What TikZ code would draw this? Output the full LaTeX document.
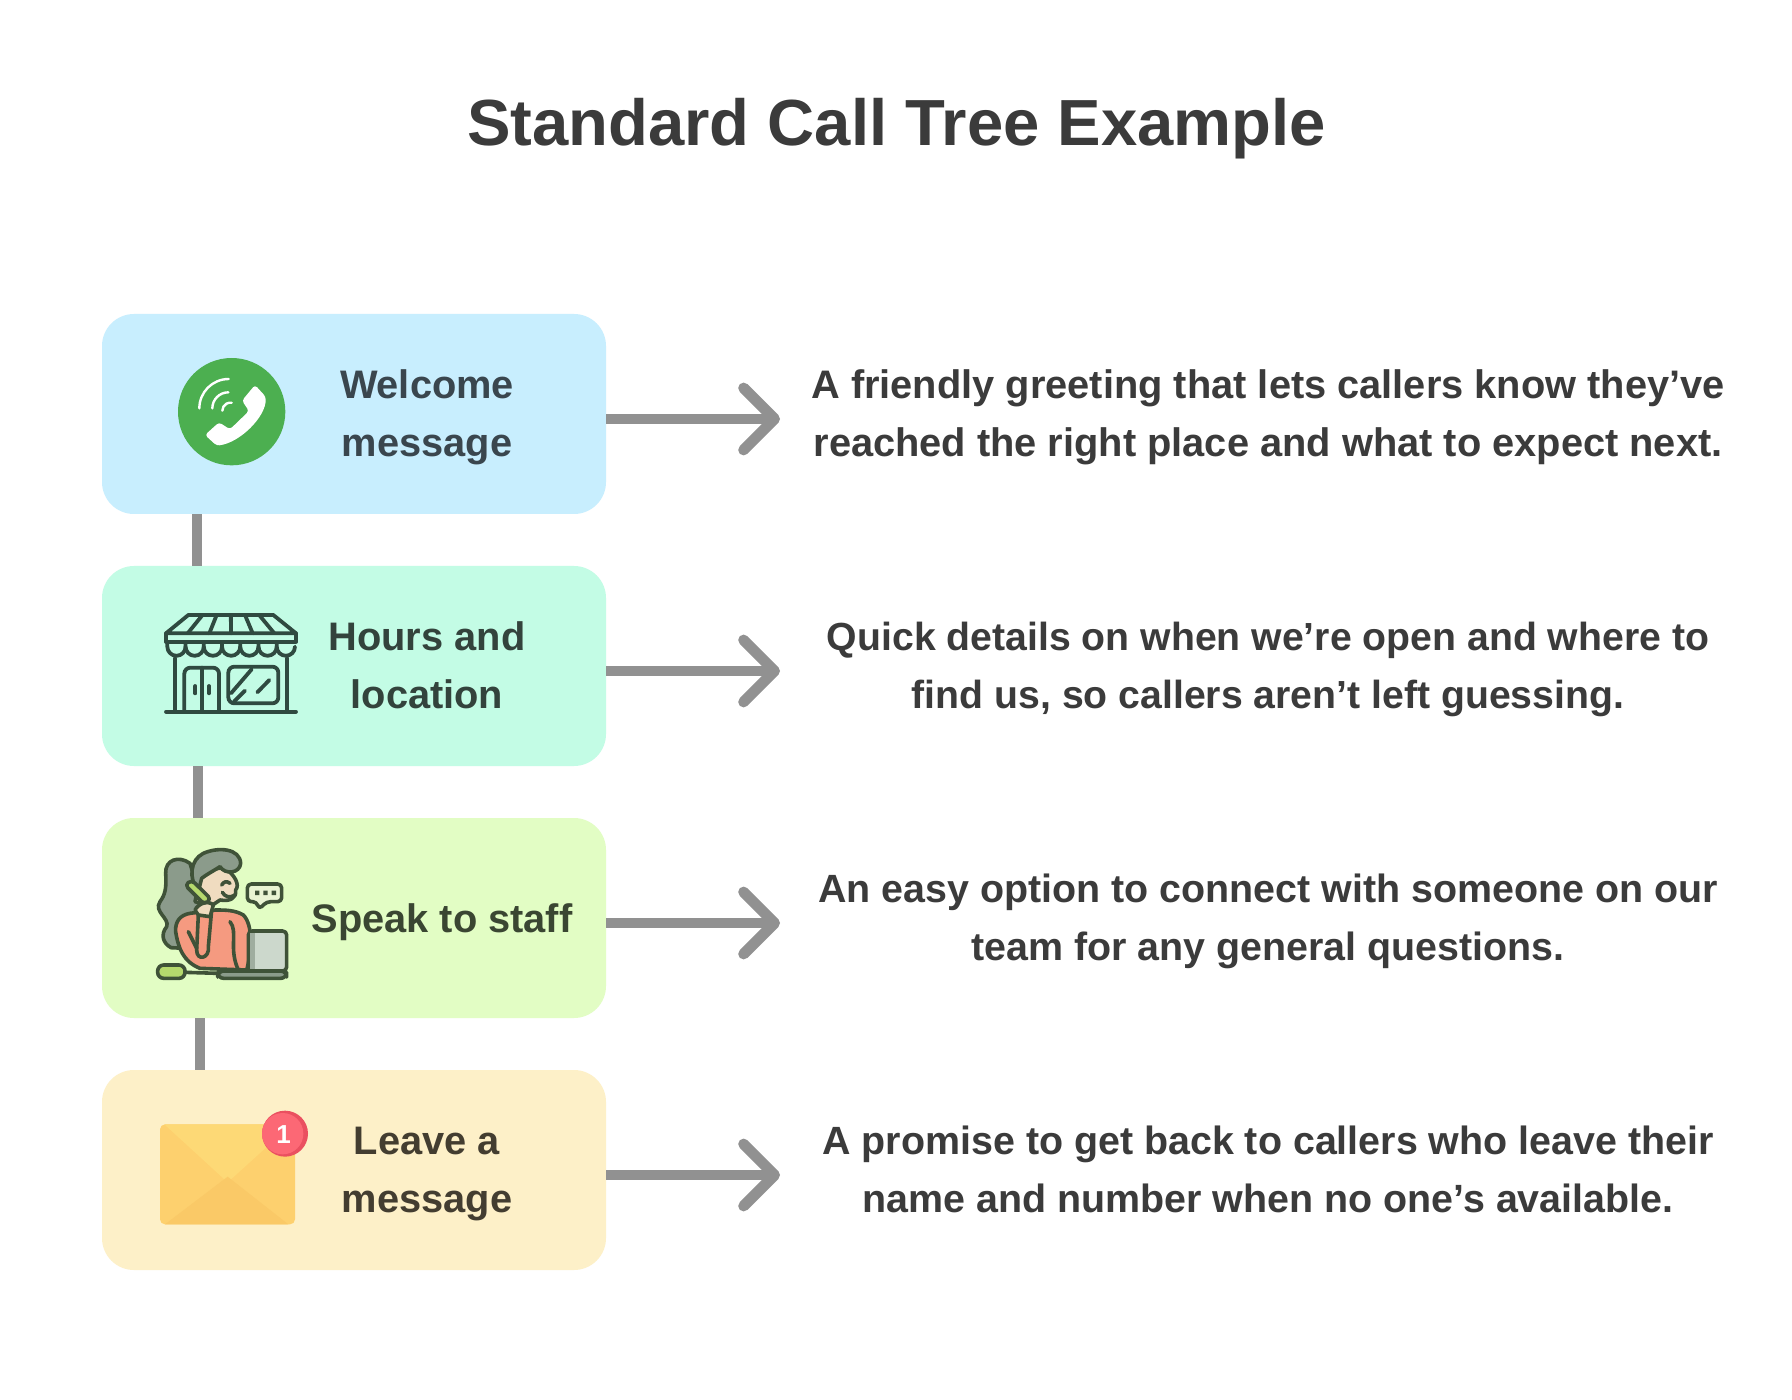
\documentclass[tikz,border=0pt]{standalone}
\usepackage{fontspec}
\setmainfont{Liberation Sans}
\usetikzlibrary{arrows.meta}
\definecolor{boxblue}{HTML}{C8EEFE}
\definecolor{boxmint}{HTML}{C3FCE5}
\definecolor{boxlime}{HTML}{E2FDC4}
\definecolor{boxcream}{HTML}{FDF0C8}
\definecolor{linkgray}{HTML}{919191}
\definecolor{inktitle}{HTML}{3B3B3B}
\definecolor{storeink}{HTML}{2F4A40}
\definecolor{wink}{HTML}{3F5238}
\definecolor{hair}{HTML}{8B9B8B}
\definecolor{skin}{HTML}{F0DCC0}
\definecolor{coral}{HTML}{F59A80}
\definecolor{phonegreen}{HTML}{B5D96D}
\definecolor{laptop}{HTML}{CCD8CC}
\definecolor{callgreen}{HTML}{4CAF50}
\definecolor{envbody}{HTML}{FDD06E}
\definecolor{envflap}{HTML}{FDD976}
\definecolor{envlow}{HTML}{FAC967}
\definecolor{badgedark}{HTML}{EA5060}
\definecolor{badgelight}{HTML}{FC6875}
\definecolor{inkblue}{HTML}{3A464E}
\definecolor{inkmint}{HTML}{33433C}
\definecolor{inklime}{HTML}{3A4632}
\definecolor{inkcream}{HTML}{433D30}
\tikzset{
  stepbox/.style={rounded corners=16pt,minimum width=252pt,minimum height=100pt,inner sep=0pt},
  steplabel/.style={font=\fontsize{19.9}{29}\selectfont\bfseries,align=center,inner sep=0pt},
  desc/.style={font=\fontsize{#1}{29}\selectfont\bfseries,align=center,inner sep=0pt,text=inktitle},
  linkline/.style={draw=linkgray,line width=5pt},
  arrowline/.style={draw=linkgray,line width=5.4pt,-{Straight Barb[length=15.5pt,width=31pt,round]}},
  icon/.style={x=0.16667pt,y=-0.16667pt},
  storeline/.style={draw=storeink,line width=1.9pt,line cap=round,line join=round},
  wline/.style={draw=wink,line width=1.8pt,line cap=round,line join=round}
}
\begin{document}
\begin{tikzpicture}[x=0.5pt,y=-0.5pt]
\useasboundingbox[fill=white] (0,0) rectangle (1792,1400);
\node[font=\fontsize{32.6}{40}\selectfont\bfseries,text=inktitle,inner sep=0pt] (title) at (896.5,129) {Standard Call Tree Example};
\node[stepbox,fill=boxblue] (b1) at (354,414) {};
\node[stepbox,fill=boxmint] (b2) at (354,666) {};
\node[stepbox,fill=boxlime] (b3) at (354,918) {};
\node[stepbox,fill=boxcream] (b4) at (354,1170) {};
\draw[linkline] ([xshift=-78.5pt]b1.south) -- ([xshift=-78.5pt]b2.north);
\draw[linkline] ([xshift=-78pt]b2.south) -- ([xshift=-78pt]b3.north);
\draw[linkline] ([xshift=-77pt]b3.south) -- ([xshift=-77pt]b4.north);
\node[steplabel,text=inkblue] (l1) at (427,415.5) {\strut Welcome\\\strut message};
\node[steplabel,text=inkmint] (l2) at (427,667.5) {\strut Hours and\\\strut location};
\node[steplabel,text=inklime] (l3) at (442,921) {\strut Speak to staff};
\node[steplabel,text=inkcream] (l4) at (427,1171.5) {\strut Leave a\\\strut message};
\node[desc=19.9] (d1) at (1268,415.5) {\strut A friendly greeting that lets callers know they’ve\\\strut reached the right place and what to expect next.};
\node[desc=19.6] (d2) at (1268,667.5) {\strut Quick details on when we’re open and where to\\\strut find us, so callers aren’t left guessing.};
\node[desc=19.7] (d3) at (1268,919.5) {\strut An easy option to connect with someone on our\\\strut team for any general questions.};
\node[desc=19.7] (d4) at (1268,1171.5) {\strut A promise to get back to callers who leave their\\\strut name and number when no one’s available.};
\coordinate (t1) at (780,419);
\coordinate (t2) at (780,671);
\coordinate (t3) at (780,923);
\coordinate (t4) at (780,1175);
\draw[arrowline] (b1.east |- t1) -- (t1);
\draw[arrowline] (b2.east |- t2) -- (t2);
\draw[arrowline] (b3.east |- t3) -- (t3);
\draw[arrowline] (b4.east |- t4) -- (t4);
% phone icon
\begin{scope}[shift={(150,330)},icon]
\fill[callgreen] (245,245) circle (161);
\draw[white,line width=1.2pt,line cap=round] (148,235) arc (180:270:88);
\draw[white,line width=1.2pt,line cap=round] (187,235) arc (180:270:48);
\draw[white,line width=1.2pt,line cap=round] (217,242) arc (180:280:24);
\fill[white,rounded corners=1.5pt] (315,165) -- (347,200) .. controls (348,260) and (270,338) .. (200,347) -- (165,315) -- (207,277) -- (240,298) -- (297,243) -- (276,212) -- cycle;
\end{scope}
% store icon
\begin{scope}[shift={(150,600)},icon]
\draw[storeline] (115,45) -- (370,45) -- (438,100) -- (48,100) -- cycle;
\draw[storeline] (48,100) -- (48,125) -- (438,125) -- (438,100);
\foreach \i in {1,...,5}{
  \draw[storeline] ({115+42.5*\i},45) -- ({48+65*\i},100);
}
\foreach \i in {0,...,6}{
  \draw[storeline] ({52+54.7*\i},127) -- ({52+54.7*\i},140) arc (180:0:27.35);
}
\draw[storeline] (75,175) -- (75,335);
\draw[storeline] (412,175) -- (412,335);
\draw[storeline] (48,335) -- (438,335);
\draw[storeline,rounded corners=3pt] (103,335) -- (103,203) -- (207,203) -- (207,335);
\draw[storeline] (155,203) -- (155,335);
\draw[storeline] (136,258) -- (136,280);
\draw[storeline] (177,258) -- (177,280);
\draw[storeline,rounded corners=3pt] (235,200) rectangle (385,310);
\draw[storeline] (305,208) -- (243,280);
\draw[storeline] (285,272) -- (252,305);
\draw[storeline] (358,240) -- (322,277);
\end{scope}
% staff icon
\begin{scope}[shift={(145,835)},icon]
\filldraw[wline,fill=hair] (135,85) .. controls (100,60) and (60,75) .. (62,115) .. controls (65,160) and (60,180) .. (45,200) .. controls (25,230) and (75,250) .. (65,275) .. controls (45,300) and (55,325) .. (78,338) -- (120,340) -- (170,200) -- cycle;
\filldraw[wline,fill=skin] (165,130) .. controls (190,110) and (215,95) .. (240,100) .. controls (270,120) and (285,150) .. (272,165) .. controls (275,190) and (255,200) .. (225,195) -- (195,215) -- (150,200) -- cycle;
\filldraw[wline,fill=hair] (160,170) .. controls (130,130) and (135,75) .. (175,55) .. controls (220,35) and (285,40) .. (287,85) .. controls (285,115) and (240,120) .. (225,95) .. controls (210,105) and (190,115) .. (170,130) -- cycle;
\filldraw[wline,fill=coral] (135,235) .. controls (105,240) and (90,260) .. (92,290) .. controls (100,340) and (115,380) .. (165,400) -- (305,405) .. controls (320,350) and (325,270) .. (295,240) .. controls (270,225) and (240,225) .. (212,225) -- cycle;
\draw[wline] (160,240) -- (155,345) .. controls (155,380) and (195,370) .. (190,335) -- (200,225);
\draw[wline] (255,260) .. controls (280,290) and (250,340) .. (280,405);
\draw[wline] (130,290) -- (155,340);
\filldraw[wline,fill=skin] (150,225) .. controls (160,205) and (190,195) .. (205,210) -- (195,245) -- (160,240) -- cycle;
\filldraw[wline,fill=phonegreen,rounded corners=2pt] (140,135) -- (198,192) -- (178,208) -- (120,150) -- cycle;
\draw[wline] (230,150) .. controls (238,138) and (245,138) .. (255,145);
\draw[wline] (232,172) .. controls (240,186) and (255,190) .. (270,180);
\filldraw[wline,fill=white!70!phonegreen,rounded corners=2pt] (307,147) -- (410,147) -- (410,200) -- (365,200) -- (342,223) -- (335,200) -- (307,200) -- cycle;
\fill[wink] (330,167) rectangle (343,180) (355,167) rectangle (368,180) (380,167) rectangle (393,180);
\filldraw[wline,fill=laptop,rounded corners=2pt] (310,288) rectangle (425,408);
\fill[hair!70!laptop] (316,295) rectangle (330,402);
\filldraw[wline,fill=hair,rounded corners=3pt] (218,408) rectangle (425,430);
\filldraw[wline,fill=phonegreen,rounded corners=3pt] (38,390) rectangle (120,430);
\draw[wline] (120,412) -- (218,415);
\end{scope}
% envelope icon
\begin{scope}[shift={(145,1095)},icon]
\fill[rounded corners=2.5pt,envbody] (45,88) rectangle (450,388);
\fill[envflap] (58,88) -- (248,262) -- (440,88) -- cycle;
\fill[envlow] (60,388) -- (248,245) -- (430,388) -- cycle;
\fill[badgedark] (420,116) circle (69);
\fill[badgelight] (413,116) circle (62);
\node[font=\fontsize{13}{14}\selectfont\bfseries,text=white,inner sep=0pt] (badge) at (416,118) {1};
\end{scope}
\end{tikzpicture}
\end{document}
